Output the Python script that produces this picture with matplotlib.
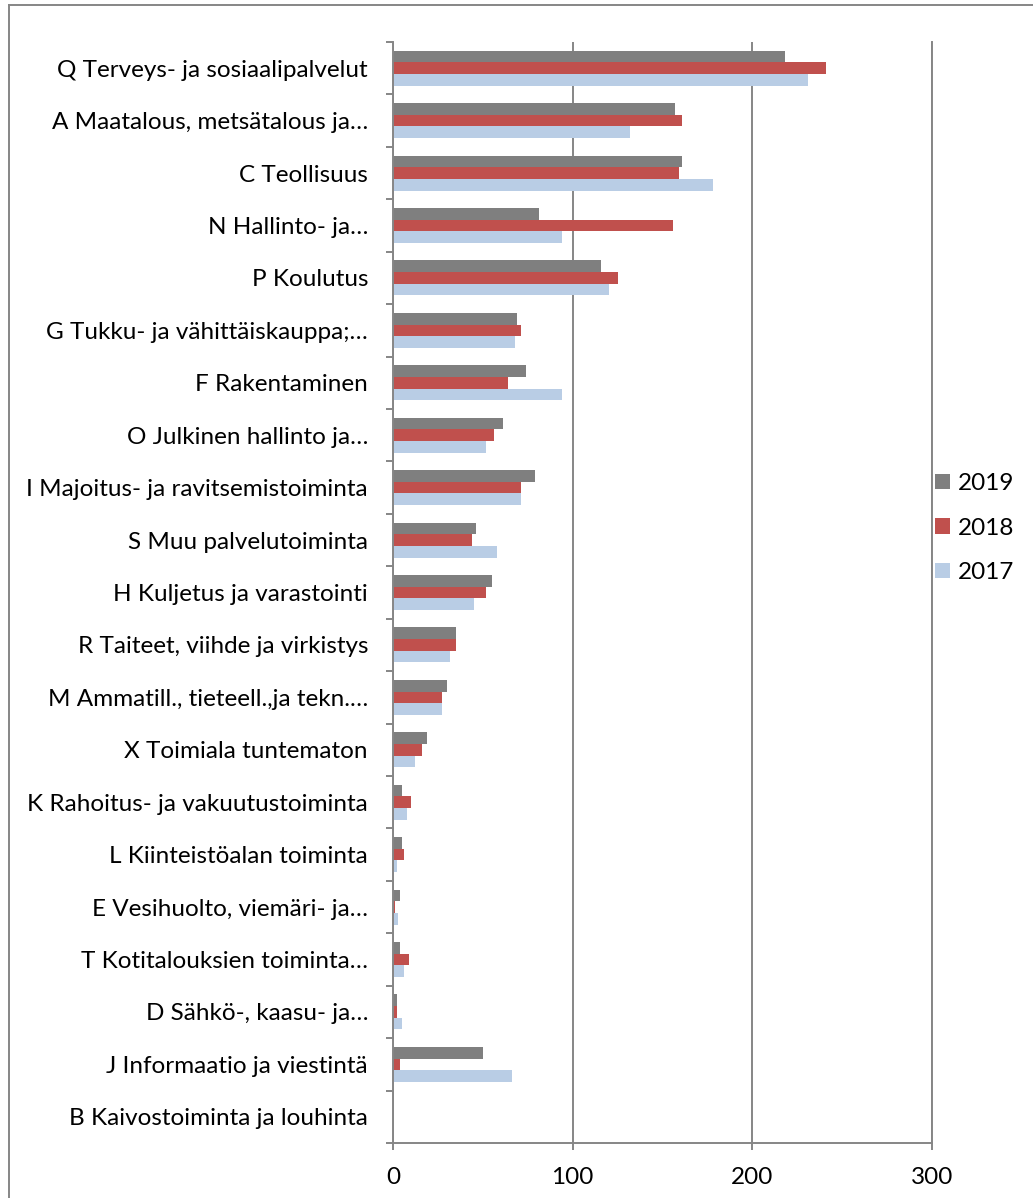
import matplotlib
matplotlib.use("Agg")
import matplotlib.pyplot as plt
import numpy as np
from matplotlib.lines import Line2D

categories = [
    "Q Terveys- ja sosiaalipalvelut",
    "A Maatalous, metsätalous ja…",
    "C Teollisuus",
    "N Hallinto- ja…",
    "P Koulutus",
    "G Tukku- ja vähittäiskauppa;…",
    "F Rakentaminen",
    "O Julkinen hallinto ja…",
    "I Majoitus- ja ravitsemistoiminta",
    "S Muu palvelutoiminta",
    "H Kuljetus ja varastointi",
    "R Taiteet, viihde ja virkistys",
    "M Ammatill., tieteell.,ja tekn.…",
    "X Toimiala tuntematon",
    "K Rahoitus- ja vakuutustoiminta",
    "L Kiinteistöalan toiminta",
    "E Vesihuolto, viemäri- ja…",
    "T Kotitalouksien toiminta…",
    "D Sähkö-, kaasu- ja…",
    "J Informaatio ja viestintä",
    "B Kaivostoiminta ja louhinta",
]
v2019 = [218, 157, 161, 81, 116, 69, 74, 61, 79, 46, 55, 35, 30, 19, 5, 5, 4, 4, 2, 50, 0]
v2018 = [241, 161, 159, 156, 125, 71, 64, 56, 71, 44, 52, 35, 27, 16, 10, 6, 1, 9, 2, 4, 0]
v2017 = [231, 132, 178, 94, 120, 68, 94, 52, 71, 58, 45, 32, 27, 12, 8, 2, 3, 6, 5, 66, 0]
series_labels = ["2019", "2018", "2017"]
xticks = [0, 100, 200, 300]

colors = ["#7F7F7F", "#C0504D", "#B9CDE5"]
grid_c = "#868686"
FONT = "Lato"
FS = 17.5

W, H = 1033, 1198
fig = plt.figure(figsize=(W / 100, H / 100), dpi=100)
ax = fig.add_axes([393 / W, 1 - 1143 / H, (932 - 393) / W, (1143 - 42) / H])

y = np.arange(len(categories))
bh = 0.222
for vals, off, c, lab in zip([v2019, v2018, v2017], [-bh, 0, bh], colors, series_labels):
    ax.barh(y + off, vals, height=bh, color=c, label=lab, linewidth=0, zorder=3)

ax.set_xlim(0, 300)
ax.set_ylim(len(categories) - 0.5, -0.5)
ax.set_xticks(xticks)
ax.set_xticklabels([str(t) for t in xticks], fontsize=FS, family=FONT)
ax.set_yticks(y)
ax.set_yticklabels(categories, fontsize=FS, family=FONT)
ax.set_yticks(np.arange(len(categories) + 1) - 0.5, minor=True)
ax.tick_params(axis="y", which="major", length=0, pad=18)
ax.tick_params(axis="y", which="minor", length=5, width=1.4, color=grid_c, direction="out")
ax.tick_params(axis="x", which="major", length=5, width=1.4, color=grid_c, direction="out", pad=12)
ax.xaxis.grid(True, color=grid_c, linewidth=1.4, zorder=0)
ax.set_axisbelow(True)
ax.spines["top"].set_visible(False)
for s in ["left", "bottom", "right"]:
    ax.spines[s].set_color(grid_c)
    ax.spines[s].set_linewidth(1.4)
    ax.spines[s].set_zorder(4)

leg = fig.legend(loc="center left", bbox_to_anchor=(935 / W, 1 - 528 / H),
                 frameon=False, prop={"family": FONT, "size": FS},
                 handlelength=0.6, handleheight=0.6, handletextpad=0.35,
                 labelspacing=0.96, borderpad=0, borderaxespad=0)

# outer chart frame (cropped)
fig.add_artist(Line2D([8.5 / W, 8.5 / W], [0, 1 - 4.5 / H], transform=fig.transFigure,
                      color=grid_c, linewidth=1.4))
fig.add_artist(Line2D([8.5 / W, 1], [1 - 4.5 / H, 1 - 4.5 / H], transform=fig.transFigure,
                      color=grid_c, linewidth=1.4))

fig.savefig("out.png", dpi=100)
